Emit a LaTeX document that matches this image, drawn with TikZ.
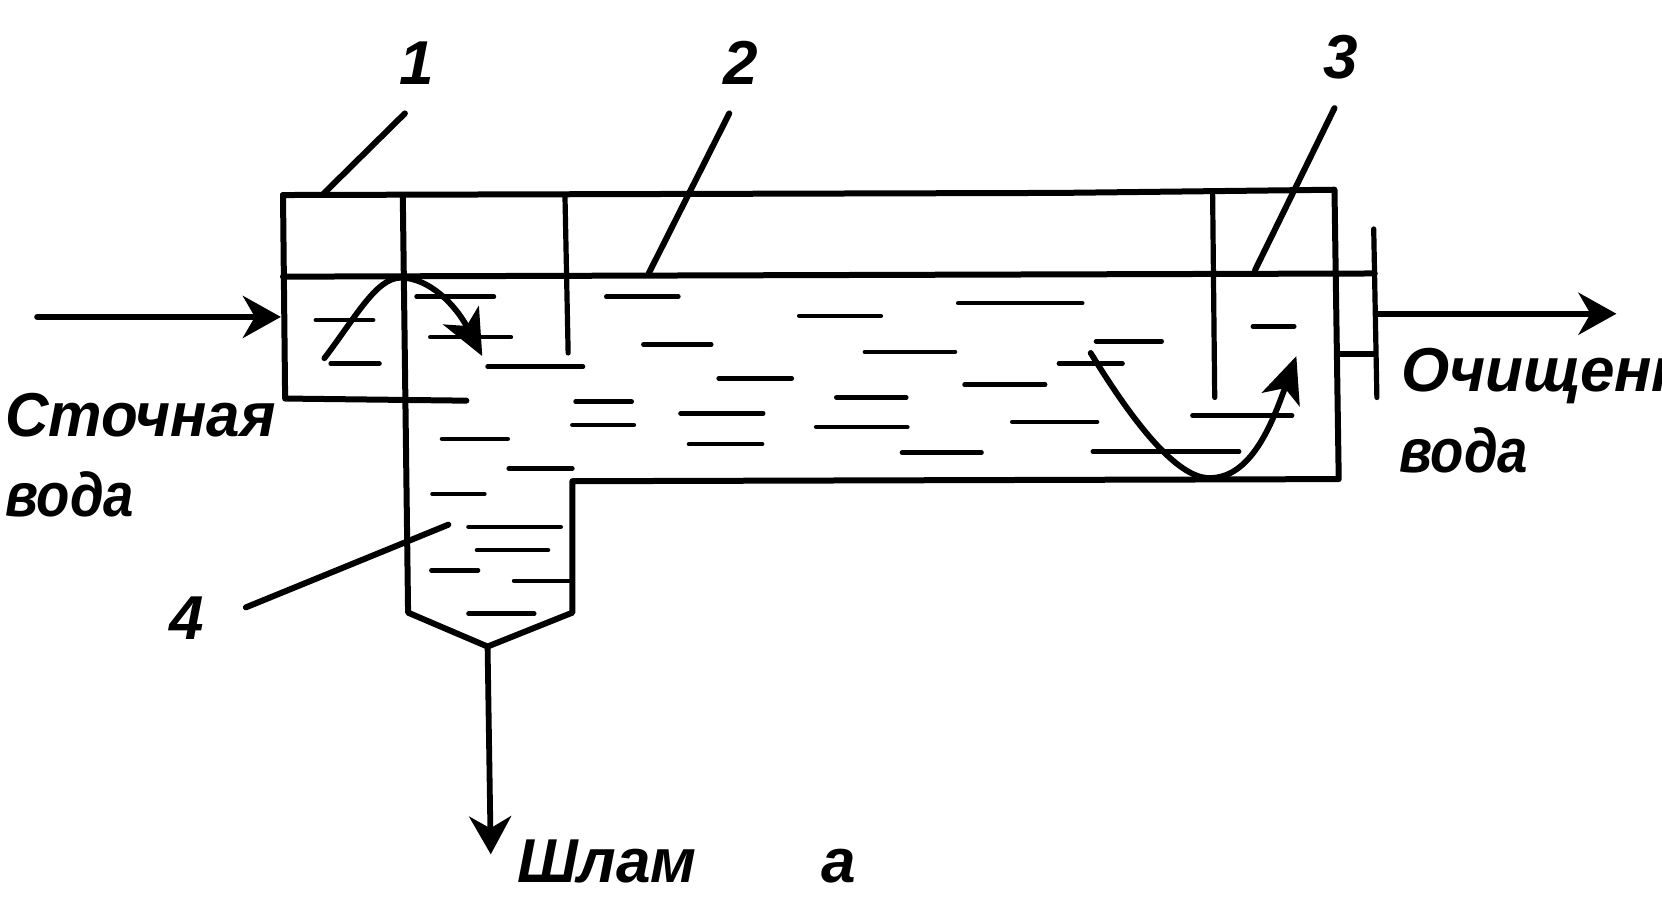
\documentclass[tikz,border=0pt]{standalone}
\usepackage{fontspec}
\setmainfont{Liberation Sans}
\usetikzlibrary{arrows.meta}
\tikzset{
  wall/.style={line width=3pt,line cap=round,line join=round},
  thinwall/.style={line width=2.6pt,line cap=round},
  waterdash/.style={line width=2.3pt,line cap=round},
  leader/.style={line width=3pt,line cap=round},
  flow/.style={line width=2.9pt,line cap=round,-{Stealth[length=19pt,width=21pt,inset=6pt]}},
  curveflow/.style={line width=2.9pt,line cap=round,-{Stealth[length=23pt,width=20pt,inset=6pt]}},
  label/.style={font=\fontsize{31}{31}\selectfont\bfseries\itshape,anchor=base west,inner sep=0pt,outer sep=0pt,text=black}
}
\begin{document}
\begin{tikzpicture}[x=0.53pt,y=-0.53pt]
\useasboundingbox (0,0) rectangle (1568,862.3);
% tank outline
\draw[wall] (267,184) -- (269,376) -- (440,378);
\draw[wall] (267,184) -- (1000,182) -- (1259,179) -- (1263,452) -- (540,454) -- (540,578) -- (460,610) -- (385,578) -- (380,184);
% water level
\draw[wall] (267,261) -- (1297,258);
% baffles
\draw[thinwall] (533,184) -- (536,333);
\draw[thinwall] (1144,180) -- (1146,375);
% outlet weir
\draw[thinwall] (1296,216) -- (1299,375);
\draw[wall] (1263,334) -- (1297,334);
% water dashes
\foreach \a/\b/\c in {298/352/302,312/358/343,393/466/280,406/482/318,460/550/346,417/479/414,
  543/596/379,540/598/401,480/540/442,408/457/466,442/529/497,450/517/519,407/451/538,485/537/548,442/504/579,
  572/640/280,607/671/325,678/747/357,642/720/390,650/719/419,754/831/298,904/1021/286,816/901/332,1034/1096/322,
  999/1059/343,910/986/363,789/855/375,770/856/403,955/1035/398,851/926/427,1031/1169/426,1125/1219/392,1182/1221/308}
  \draw[waterdash] (\a,\c) -- (\b,\c);
% flows
\coordinate (inA) at (35,299);
\coordinate (inB) at (265,299);
\draw[flow] (inA) -- (inB);
\coordinate (outA) at (1300,296);
\coordinate (outB) at (1525,296);
\draw[flow] (outA) -- (outB);
\coordinate (drainA) at (460,610);
\coordinate (drainB) at (463,806);
\draw[flow] (drainA) -- (drainB);
\draw[curveflow] (306,338) .. controls (335,300) and (355,262) .. (378,262) .. controls (405,262) and (430,288) .. (455,336);
\draw[curveflow] (1029,333) .. controls (1070,400) and (1110,450) .. (1140,451) .. controls (1180,452) and (1200,400) .. (1223,336);
% leaders
\draw[leader] (305,183) -- (382,107);
\draw[leader] (612,258) -- (688,107);
\draw[leader] (1184,255) -- (1259,102);
\draw[leader] (232,573) -- (423,495);
% labels
\node[label] (n1) at (377,80) {1};
\node[label] (n2) at (683,80) {2};
\node[label] (n3) at (1249,74) {3};
\node[label] (n4) at (160,603) {4};
\node[label] (t1) at (5,412) {\scalebox{.97}[1]{Сточная}};
\node[label] (t2) at (5,487) {\scalebox{.88}[1]{вода}};
\node[label] (t3) at (1322,369) {Очищенн};
\node[label] (t4) at (1320,446) {\scalebox{.88}[1]{вода}};
\node[label] (t5) at (488,833) {Шлам};
\node[label] (t6) at (775,833) {а};
\end{tikzpicture}
\end{document}
